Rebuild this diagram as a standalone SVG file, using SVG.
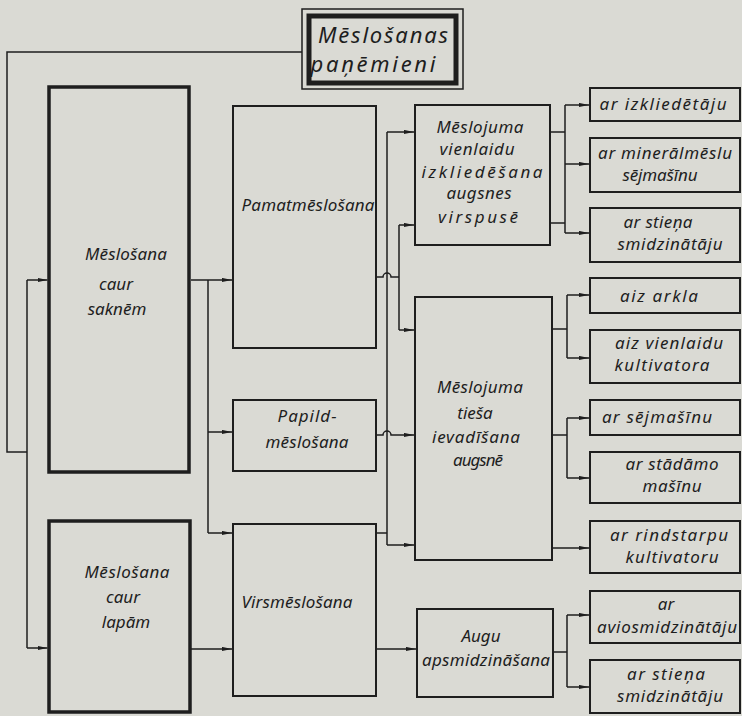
<svg xmlns="http://www.w3.org/2000/svg" width="742" height="716" viewBox="0 0 742 716">
<defs>
<marker id="ah" viewBox="0 0 10 5" refX="10" refY="2.5" markerWidth="10" markerHeight="5" markerUnits="userSpaceOnUse" orient="auto">
<path d="M0,0.4 L10,2.5 L0,4.6 z" fill="#1e1e1e"/>
</marker>
<style>
.bg{fill:#dadad4}
.box{fill:none;stroke:#1e1e1e;stroke-width:2}
.heavy{fill:none;stroke:#1e1e1e;stroke-width:3.5}
.ln{fill:none;stroke:#1e1e1e;stroke-width:1.5}
.arr{marker-end:url(#ah)}
text{font-family:"Noto Sans","Liberation Sans",sans-serif;font-style:italic;font-size:17px;fill:#1e1e1e;text-anchor:middle}
.ttl{font-size:22px}
</style>
</defs>
<rect class="bg" x="0" y="0" width="742" height="716"/>

<!-- connectors -->
<g id="connectors">
  <!-- frame from title -->
  <path class="ln" d="M302,52 H7 V452 H27"/>
  <!-- root bus to the two main groups -->
  <path class="ln" d="M27,280 V648"/>
  <path class="ln arr" d="M27,280 H47.5"/>
  <path class="ln arr" d="M27,648 H47.5"/>
  <!-- through roots -->
  <path class="ln arr" d="M191,280 H232"/>
  <path class="ln" d="M208,280 V533"/>
  <path class="ln arr" d="M208,432 H232"/>
  <path class="ln arr" d="M208,533 H232"/>
  <!-- through leaves -->
  <path class="ln arr" d="M191,649 H232"/>
  <!-- bus A (x=387) -->
  <path class="ln" d="M376,533 H387"/>
  <path class="ln" d="M387,132 V545"/>
  <path class="ln arr" d="M387,132 H414"/>
  <path class="ln arr" d="M387,545 H414"/>
  <!-- bus B (x=399) fed from basic fertilization -->
  <path class="ln" d="M376,277 H383 a4,4 0 0 1 8,0 H399"/>
  <path class="ln" d="M399,225 V330"/>
  <path class="ln arr" d="M399,225 H414"/>
  <path class="ln arr" d="M399,330 H414"/>
  <!-- supplementary -> direct incorporation -->
  <path class="ln arr" d="M376,435 H383 a4,4 0 0 1 8,0 H414"/>
  <!-- surface -> spraying -->
  <path class="ln arr" d="M376,649 H416"/>
  <!-- spreading group -->
  <path class="ln" d="M550,132 H565 M550,223 H565 M565,105 V233"/>
  <path class="ln arr" d="M565,105 H589"/>
  <path class="ln arr" d="M565,164 H589"/>
  <path class="ln arr" d="M565,233 H589"/>
  <!-- direct incorporation group -->
  <path class="ln" d="M552,329 H567 M567,295 V358"/>
  <path class="ln arr" d="M567,295 H589"/>
  <path class="ln arr" d="M567,358 H589"/>
  <path class="ln" d="M552,435 H567 M567,418 V478"/>
  <path class="ln arr" d="M567,418 H589"/>
  <path class="ln arr" d="M567,478 H589"/>
  <path class="ln arr" d="M552,548 H589"/>
  <!-- spraying group -->
  <path class="ln" d="M553,652 H567 M567,615 V687"/>
  <path class="ln arr" d="M567,615 H589"/>
  <path class="ln arr" d="M567,687 H589"/>
</g>

<g id="title">
  <rect x="302" y="9" width="161" height="80" fill="none" stroke="#1e1e1e" stroke-width="1.5"/>
  <rect x="309" y="16" width="147" height="67" fill="none" stroke="#1e1e1e" stroke-width="5"/>
  <text class="ttl" x="383" y="43" textLength="130" lengthAdjust="spacing">Mēslošanas</text>
  <text class="ttl" x="373" y="72" textLength="125" lengthAdjust="spacing">paņēmieni</text>
</g>

<g id="roots">
  <rect class="heavy" x="49" y="87" width="140" height="385"/>
  <text x="126" y="260" textLength="82" lengthAdjust="spacing">Mēslošana</text>
  <text x="116" y="290">caur</text>
  <text x="117" y="315">saknēm</text>
</g>
<g id="leaves">
  <rect class="heavy" x="49" y="521" width="141" height="191"/>
  <text x="127" y="578" textLength="85" lengthAdjust="spacing">Mēslošana</text>
  <text x="123" y="603">caur</text>
  <text x="126" y="628">lapām</text>
</g>

<g id="basic">
  <rect class="box" x="233" y="106" width="143" height="242"/>
  <text x="308" y="211" textLength="133" lengthAdjust="spacing">Pamatmēslošana</text>
</g>
<g id="supplementary">
  <rect class="box" x="233" y="400" width="143" height="71"/>
  <text x="307" y="422" textLength="59" lengthAdjust="spacing">Papild-</text>
  <text x="307" y="448" textLength="83" lengthAdjust="spacing">mēslošana</text>
</g>
<g id="surface">
  <rect class="box" x="233" y="524" width="143" height="172"/>
  <text x="297" y="608" textLength="111" lengthAdjust="spacing">Virsmēslošana</text>
</g>

<g id="spreading">
  <rect class="box" x="415" y="105" width="135" height="140"/>
  <text x="480" y="133" textLength="87" lengthAdjust="spacing">Mēslojuma</text>
  <text x="477" y="155" textLength="75" lengthAdjust="spacing">vienlaidu</text>
  <text x="482" y="178" textLength="121" lengthAdjust="spacing">izkliedēšana</text>
  <text x="479" y="199" textLength="65" lengthAdjust="spacing">augsnes</text>
  <text x="478" y="223" textLength="80" lengthAdjust="spacing">virspusē</text>
</g>
<g id="incorporation">
  <rect class="box" x="415" y="297" width="137" height="263"/>
  <text x="480" y="393" textLength="86" lengthAdjust="spacing">Mēslojuma</text>
  <text x="475" y="419">tieša</text>
  <text x="476" y="443" textLength="88" lengthAdjust="spacing">ievadīšana</text>
  <text x="478" y="466" textLength="50" lengthAdjust="spacing">augsnē</text>
</g>
<g id="spraying">
  <rect class="box" x="417" y="609" width="136" height="88"/>
  <text x="481" y="642">Augu</text>
  <text x="486" y="666" textLength="128" lengthAdjust="spacing">apsmidzināšana</text>
</g>

<g id="spreader">
  <rect class="box" x="590" y="88" width="150" height="33"/>
  <text x="663" y="110" textLength="127" lengthAdjust="spacing">ar izkliedētāju</text>
</g>
<g id="mineral-drill">
  <rect class="box" x="590" y="138" width="150" height="54"/>
  <text x="665" y="159" textLength="134" lengthAdjust="spacing">ar minerālmēslu</text>
  <text x="660" y="181" textLength="75" lengthAdjust="spacing">sējmašīnu</text>
</g>
<g id="boom-sprayer-1">
  <rect class="box" x="590" y="208" width="150" height="54"/>
  <text x="658" y="228" textLength="69" lengthAdjust="spacing">ar stieņa</text>
  <text x="670" y="250" textLength="105" lengthAdjust="spacing">smidzinātāju</text>
</g>
<g id="plough">
  <rect class="box" x="590" y="278" width="150" height="35"/>
  <text x="659" y="302" textLength="78" lengthAdjust="spacing">aiz arkla</text>
</g>
<g id="cultivator">
  <rect class="box" x="590" y="330" width="150" height="53"/>
  <text x="669" y="349" textLength="108" lengthAdjust="spacing">aiz vienlaidu</text>
  <text x="662" y="371" textLength="95" lengthAdjust="spacing">kultivatora</text>
</g>
<g id="seed-drill">
  <rect class="box" x="590" y="400" width="150" height="35"/>
  <text x="657" y="423" textLength="110" lengthAdjust="spacing">ar sējmašīnu</text>
</g>
<g id="planter">
  <rect class="box" x="590" y="452" width="150" height="51"/>
  <text x="672" y="470" textLength="93" lengthAdjust="spacing">ar stādāmo</text>
  <text x="672" y="492" textLength="59" lengthAdjust="spacing">mašīnu</text>
</g>
<g id="row-cultivator">
  <rect class="box" x="590" y="521" width="150" height="52"/>
  <text x="669" y="541" textLength="118" lengthAdjust="spacing">ar rindstarpu</text>
  <text x="672" y="563" textLength="93" lengthAdjust="spacing">kultivatoru</text>
</g>
<g id="aerial-sprayer">
  <rect class="box" x="590" y="591" width="150" height="52"/>
  <text x="666" y="610">ar</text>
  <text x="667" y="633" textLength="140" lengthAdjust="spacing">aviosmidzinātāju</text>
</g>
<g id="boom-sprayer-2">
  <rect class="box" x="590" y="660" width="150" height="53"/>
  <text x="666" y="680" textLength="78" lengthAdjust="spacing">ar stieņa</text>
  <text x="670" y="702" textLength="106" lengthAdjust="spacing">smidzinātāju</text>
</g>
</svg>
